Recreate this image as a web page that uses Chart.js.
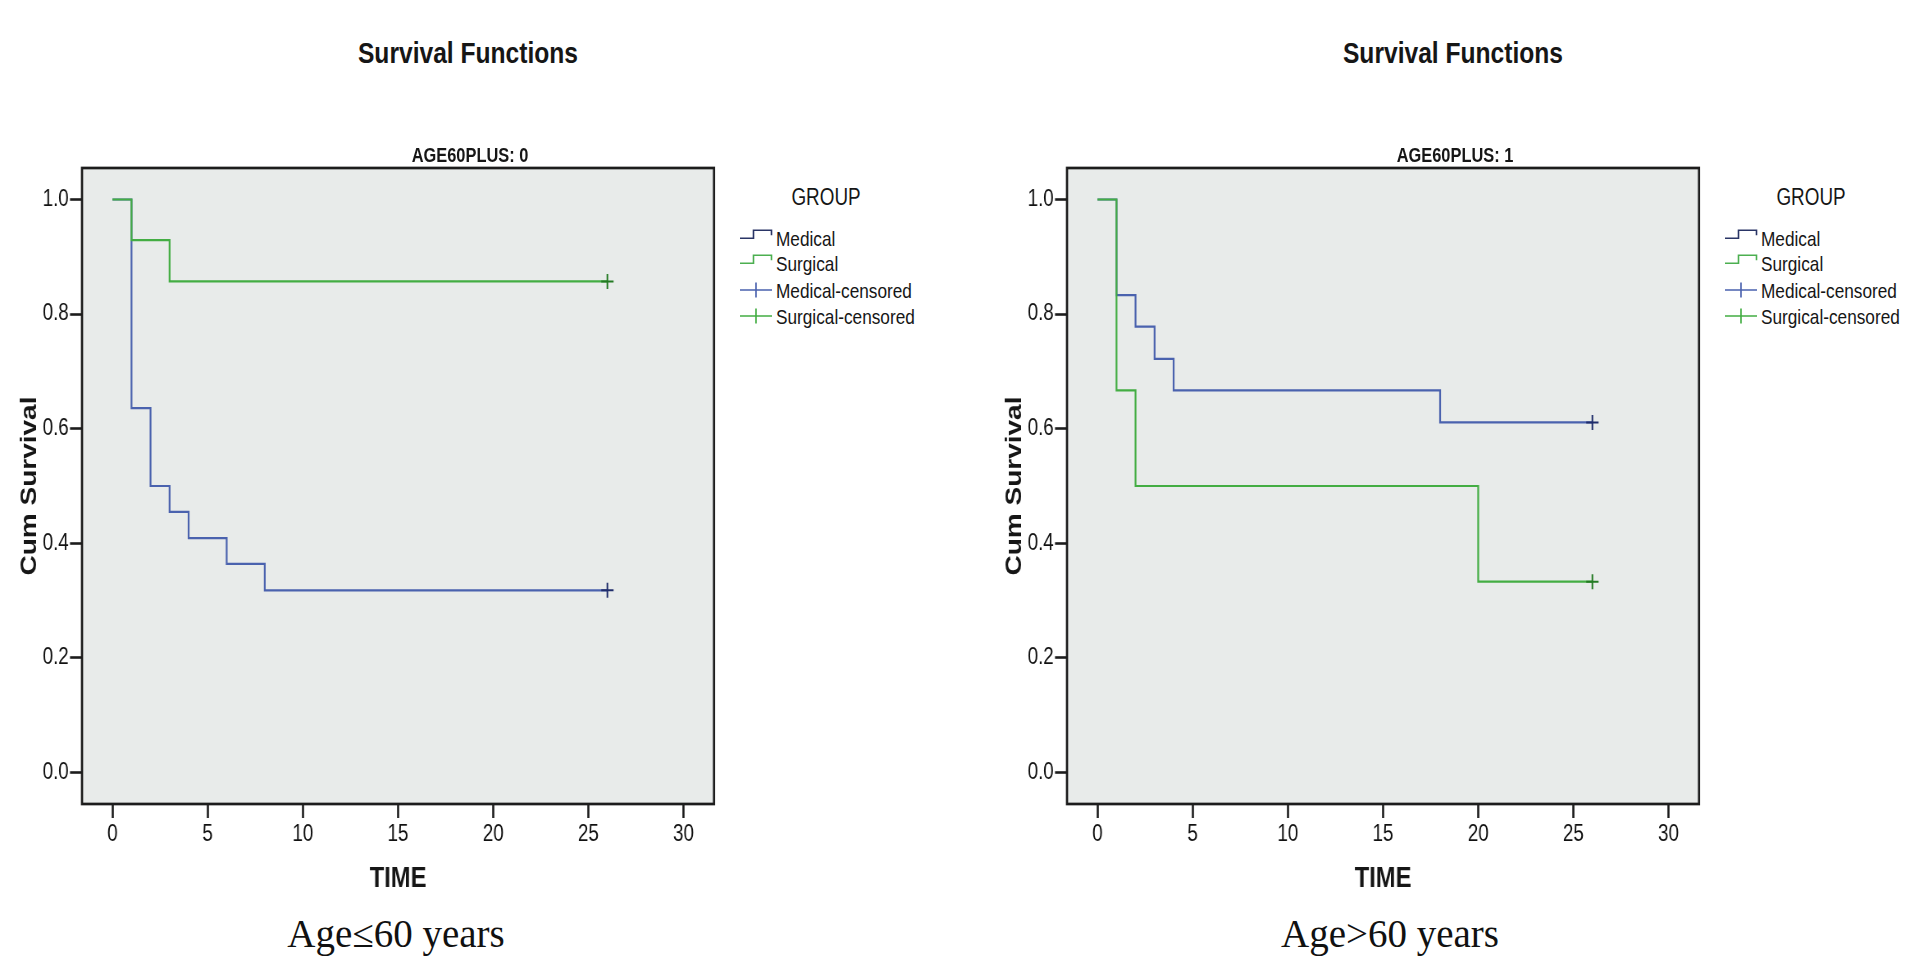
<!DOCTYPE html>
<html>
<head>
<meta charset="utf-8">
<script src="https://cdn.jsdelivr.net/npm/chart.js@4.4.1/dist/chart.umd.min.js"></script>
<style>
  html, body { margin: 0; padding: 0; background: #fff; }
  #page { position: relative; width: 1918px; height: 976px; overflow: hidden; }
  .txt { position: absolute; line-height: 1; white-space: nowrap; color: #161616; }
  .sq { font-family: 'Liberation Sans', Arial, sans-serif; transform: translate(-50%, -50%) scaleX(0.82); }
  .sqleft { font-family: 'Liberation Sans', Arial, sans-serif; transform-origin: 0 50%; transform: translate(0, -50%) scaleX(0.82); }
  .serif { font-family: 'Liberation Serif', 'Times New Roman', serif; transform: translate(-50%, -50%); }
  .wrap { position: absolute; transform-origin: 0 0; transform: scaleX(0.82); }
  svg.icon { position: absolute; overflow: visible; }
</style>
</head>
<body>
<div id="page"></div>
<script>
// Age <= 60 (AGE60PLUS: 0)
const medTime0 = [0, 1, 2, 3, 4, 6, 8, 26];
const medSurv0 = [1.0, 0.636, 0.5, 0.455, 0.409, 0.364, 0.318, 0.318];
const surTime0 = [0, 1, 3, 26];
const surSurv0 = [1.0, 0.929, 0.857, 0.857];
const medCensTime0 = [26];
const medCensSurv0 = [0.318];
const surCensTime0 = [26];
const surCensSurv0 = [0.857];

// Age > 60 (AGE60PLUS: 1)
const medTime1 = [0, 1, 2, 3, 4, 18, 26];
const medSurv1 = [1.0, 0.833, 0.778, 0.722, 0.667, 0.611, 0.611];
const surTime1 = [0, 1, 2, 20, 26];
const surSurv1 = [1.0, 0.667, 0.5, 0.333, 0.333];
const medCensTime1 = [26];
const medCensSurv1 = [0.611];
const surCensTime1 = [26];
const surCensSurv1 = [0.333];

// Axes and labels
const xTicks = [0, 5, 10, 15, 20, 25, 30];
const yTicks = [0.0, 0.2, 0.4, 0.6, 0.8, 1.0];
const groupLabels = ['Medical', 'Surgical', 'Medical-censored', 'Surgical-censored'];
const panelTitles = ['AGE60PLUS: 0', 'AGE60PLUS: 1'];
const captions = ['Age\u226460 years', 'Age>60 years'];

const colors = {
    medLine: '#4a62ae',
    surLine: '#43ad43',
    medMark: '#1f2d6b',
    surMark: '#237a23',
    medIcon: '#2a3566',
    surIcon: '#4caf50'
};

// the source figure is squeezed horizontally; the chart is drawn wide then scaled
const SQ = 0.82;
const page = document.getElementById('page');

function zip(ts, ss) {
    return ts.map((t, i) => ({ x: t, y: ss[i] }));
}

function addText(str, x, y, cls, style) {
    const d = document.createElement('div');
    d.className = 'txt ' + cls;
    d.textContent = str;
    d.style.left = x + 'px';
    d.style.top = y + 'px';
    Object.assign(d.style, style || {});
    page.appendChild(d);
    return d;
}

// plot background + frame
const framePlugin = {
    id: 'frame',
    beforeDraw(chart) {
        const a = chart.chartArea, ctx = chart.ctx;
        ctx.save();
        ctx.fillStyle = '#e8ebea';
        ctx.fillRect(a.left, a.top, a.right - a.left, a.bottom - a.top);
        ctx.restore();
    },
    afterDatasetsDraw(chart) {
        const a = chart.chartArea, ctx = chart.ctx;
        ctx.save();
        ctx.strokeStyle = '#1c1c1c';
        ctx.lineWidth = 2.7;
        ctx.strokeRect(a.left, a.top, a.right - a.left, a.bottom - a.top);
        ctx.restore();
    }
};

const CW = 890, CH = 770, CTOP = 140;

function makePanel(dx, d) {
    const wrap = document.createElement('div');
    wrap.className = 'wrap';
    wrap.style.left = dx + 'px';
    wrap.style.top = CTOP + 'px';
    wrap.style.width = CW + 'px';
    wrap.style.height = CH + 'px';
    const cv = document.createElement('canvas');
    cv.width = CW;
    cv.height = CH;
    cv.style.width = CW + 'px';
    cv.style.height = CH + 'px';
    wrap.appendChild(cv);
    page.appendChild(wrap);

    const tickFont = { family: "'Liberation Sans', Arial, sans-serif", size: 23 };

    new Chart(cv.getContext('2d'), {
        type: 'line',
        data: {
            datasets: [
                {
                    label: groupLabels[0], data: zip(d.medT, d.medS),
                    borderColor: colors.medLine, borderWidth: 2.2, stepped: 'before',
                    pointRadius: 0, fill: false, order: 4
                },
                {
                    label: groupLabels[1], data: zip(d.surT, d.surS),
                    borderColor: colors.surLine, borderWidth: 2.2, stepped: 'before',
                    pointRadius: 0, fill: false, order: 3
                },
                {
                    label: groupLabels[2], data: zip(d.medCT, d.medCS), showLine: false,
                    pointStyle: 'cross', pointRadius: 7.5, pointBorderWidth: 2,
                    pointBorderColor: colors.medMark, order: 2
                },
                {
                    label: groupLabels[3], data: zip(d.surCT, d.surCS), showLine: false,
                    pointStyle: 'cross', pointRadius: 7.5, pointBorderWidth: 2,
                    pointBorderColor: colors.surMark, order: 1
                }
            ]
        },
        options: {
            responsive: false,
            animation: false,
            events: [],
            layout: { padding: { left: 0, top: 168 - CTOP, right: CW - 714 / SQ, bottom: 0 } },
            plugins: { legend: { display: false }, tooltip: { enabled: false } },
            scales: {
                x: {
                    type: 'linear',
                    min: -1.6,
                    max: 31.6,
                    afterBuildTicks: s => { s.ticks = xTicks.map(v => ({ value: v })); },
                    afterFit: s => { s.height = CH - (804 - CTOP); },
                    grid: { drawOnChartArea: false, drawTicks: true, tickLength: 14, tickColor: '#1c1c1c', tickWidth: 2.6 },
                    border: { display: false },
                    ticks: { autoSkip: false, maxRotation: 0, padding: 3, color: '#111', font: tickFont },
                    title: {
                        display: true, text: 'TIME', color: '#161616',
                        font: { family: "'Liberation Sans', Arial, sans-serif", size: 29, weight: 'bold', lineHeight: 1 },
                        padding: { top: 0, bottom: 17 }
                    }
                },
                y: {
                    type: 'linear',
                    min: -0.055,
                    max: 1.055,
                    afterBuildTicks: s => { s.ticks = yTicks.map(v => ({ value: v })); },
                    afterFit: s => { s.width = 82 / SQ; },
                    grid: { drawOnChartArea: false, drawTicks: true, tickLength: 12 / SQ, tickColor: '#1c1c1c', tickWidth: 2.6 },
                    border: { display: false },
                    ticks: { padding: 1.5, color: '#111', font: tickFont, callback: v => v.toFixed(1) },
                    title: {
                        display: true, text: 'Cum Survival', color: '#161616',
                        font: { family: "'Liberation Sans', Arial, sans-serif", size: 28, weight: 'bold', lineHeight: 1 },
                        padding: { top: 30 / SQ - 14, bottom: 0 }
                    }
                }
            }
        },
        plugins: [framePlugin]
    });
}

function stepIcon(x, y, color) {
    const s = document.createElementNS('http://www.w3.org/2000/svg', 'svg');
    s.setAttribute('class', 'icon');
    s.setAttribute('width', '34');
    s.setAttribute('height', '20');
    s.style.left = x + 'px';
    s.style.top = (y - 10) + 'px';
    s.innerHTML = '<path d="M0 10.3 H13.5 V2.2 H31.5 V7.2" fill="none" stroke="' + color + '" stroke-width="1.6"/>';
    page.appendChild(s);
}

function crossIcon(x, y, color) {
    const s = document.createElementNS('http://www.w3.org/2000/svg', 'svg');
    s.setAttribute('class', 'icon');
    s.setAttribute('width', '34');
    s.setAttribute('height', '20');
    s.style.left = x + 'px';
    s.style.top = (y - 10) + 'px';
    s.innerHTML = '<path d="M0 10 H32 M16 2.5 V17.5" fill="none" stroke="' + color + '" stroke-width="1.6"/>';
    page.appendChild(s);
}

function decorate(idx, dx) {
    addText('Survival Functions', dx + 468, 52.5, 'sq', { fontSize: '30px', fontWeight: 'bold' });
    addText(panelTitles[idx], dx + 470, 154.5, 'sq', { fontSize: '20px', fontWeight: 'bold' });
    addText('GROUP', dx + 826, 197, 'sq', { fontSize: '23px' });
    const rows = [237.5, 263, 289.5, 315.5];
    stepIcon(dx + 740, rows[0], colors.medIcon);
    stepIcon(dx + 740, rows[1], colors.surIcon);
    crossIcon(dx + 740, rows[2], colors.medLine);
    crossIcon(dx + 740, rows[3], colors.surLine);
    groupLabels.forEach((g, i) => {
        addText(g, dx + 776, rows[i], 'sqleft', { fontSize: '21px' });
    });
    addText(captions[idx], idx === 0 ? 396 : 1390, 933, 'serif', { fontSize: '39px', color: '#111' });
}

makePanel(0, {
    medT: medTime0, medS: medSurv0, surT: surTime0, surS: surSurv0,
    medCT: medCensTime0, medCS: medCensSurv0, surCT: surCensTime0, surCS: surCensSurv0
});
makePanel(985, {
    medT: medTime1, medS: medSurv1, surT: surTime1, surS: surSurv1,
    medCT: medCensTime1, medCS: medCensSurv1, surCT: surCensTime1, surCS: surCensSurv1
});
decorate(0, 0);
decorate(1, 985);
</script>
</body>
</html>
